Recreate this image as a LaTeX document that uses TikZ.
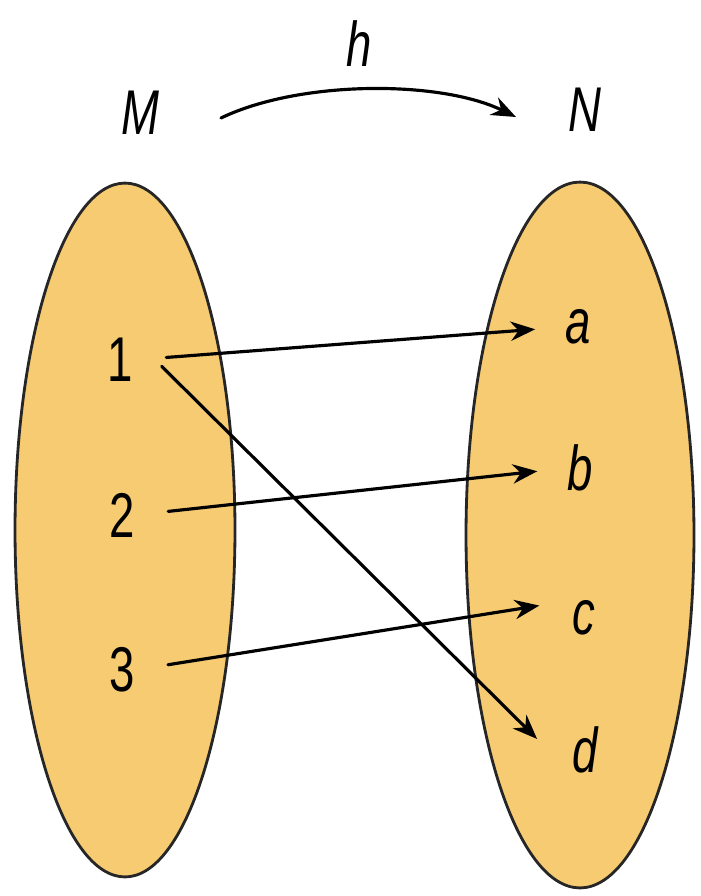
\documentclass[tikz,border=0pt]{standalone}
\usepackage{fontspec}
\newfontfamily\labfont{Liberation Sans}[FakeStretch=0.72]
\usetikzlibrary{arrows.meta}
\definecolor{setfill}{RGB}{246,203,114}

\begin{document}
\begin{tikzpicture}[x=.02cm,y=-.02cm,>={Stealth[length=14pt,width=11pt]},line cap=round,line join=round,
  setshape/.style={fill=setfill,draw=black!85,line width=1.6pt},
  elem/.style={inner sep=0pt,font=\labfont\fontsize{36}{40}\selectfont},
  var/.style={elem,font=\labfont\itshape\fontsize{36}{40}\selectfont},
  map/.style={->,line width=1.8pt,shorten <=19pt,shorten >=17pt}]
  \useasboundingbox (0,0) rectangle (700,896);
  \draw[setshape] (125,530) ellipse [x radius=2.2cm,y radius=6.94cm];
  \draw[setshape] (580,535) ellipse [x radius=2.28cm,y radius=7.06cm];
  \node[var] (M) at (140,113) {M};
  \node[var] (N) at (585,110) {N};
  \node[var] (h) at (359,44) {h};
  \coordinate (hs) at (221,118);
  \coordinate (he) at (516,117);
  \draw[->,line width=1.8pt] (hs) .. controls (300,80) and (440,80) .. (he);
  \node[elem] (n1) at (120,360) {1};
  \node[elem] (n2) at (122,515) {2};
  \node[elem] (n3) at (122,670) {3};
  \node[var] (a) at (578,327) {a};
  \node[var] (b) at (580,468) {b};
  \node[var] (c) at (584,618) {c};
  \node[var] (d) at (585,750) {d};
  \draw[map] (n1.east) -- (a.west);
  \draw[map,shorten <=23pt,shorten >=28pt] (n1.north east) -- (d.south west);
  \draw[map] (n2.east) -- (b.west);
  \draw[map,shorten >=19pt] (n3.east) -- (c.north west);
\end{tikzpicture}
\end{document}
